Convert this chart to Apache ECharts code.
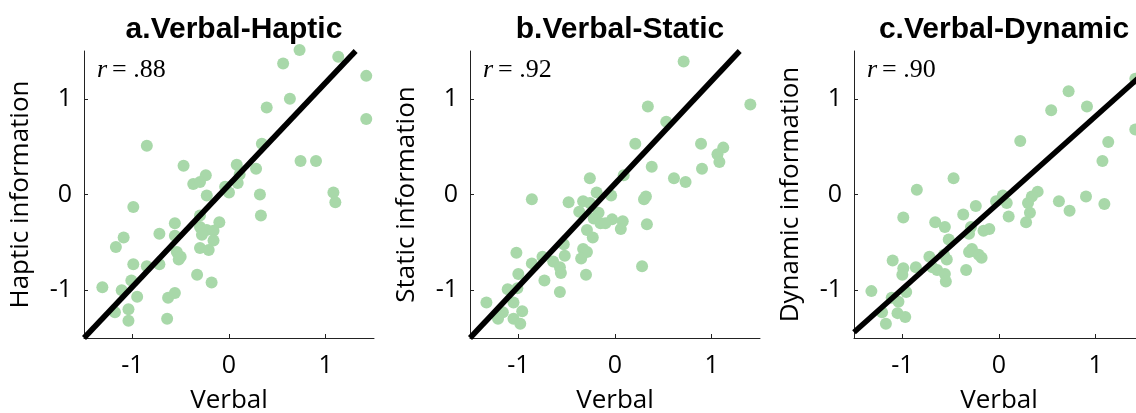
<!DOCTYPE html>
<html>
<head>
<meta charset="utf-8">
<script src="https://cdn.jsdelivr.net/npm/echarts@6/dist/echarts.min.js"></script>
<style>
  html, body { margin: 0; padding: 0; background: #fff; }
  #main { width: 1136px; height: 413px; }
</style>
</head>
<body>
<div id="main"></div>
<script>
/* 数据 */
var ticks = [-1, 0, 1];
var panelTitles = ['a.Verbal-Haptic', 'b.Verbal-Static', 'c.Verbal-Dynamic'];
var yNames = ['Haptic information', 'Static information', 'Dynamic information'];
var rValues = ['.88', '.92', '.90'];

var verbalA = [0.73, 1.13, 0.56, 1.42, 0.63, 0.39, 1.42, -0.85, 0.34, -0.47, 0.08, 0.74, 0.90, 0.28, -0.24,
    -0.37, -0.30, 0.11, 0.09, -0.04, -0.23, 0.00, 0.32, 1.08, 1.10, -0.99, 0.33, -0.30, -0.10, -0.56,
    -0.30, -0.23, -0.16, -0.72, -0.56, -0.28, -0.16, -1.09, -1.17, -0.30, -0.21, -0.54, -0.50, -0.52, -0.99,
    -0.85, -0.72, -0.33, -0.18, -1.01, -1.31, -1.11, -0.95, -0.63, -0.56, -1.18, -1.04, -1.04, -0.64];
var hapticInfo = [1.51, 1.44, 1.37, 1.24, 1.00, 0.91, 0.79, 0.51, 0.53, 0.30, 0.31, 0.35, 0.35, 0.27, 0.20,
    0.11, 0.13, 0.21, 0.12, 0.08, -0.01, 0.02, 0.00, 0.02, -0.08, -0.13, -0.22, -0.22, -0.29, -0.30,
    -0.34, -0.37, -0.38, -0.41, -0.43, -0.42, -0.48, -0.45, -0.55, -0.56, -0.58, -0.60, -0.65, -0.68, -0.73,
    -0.75, -0.73, -0.84, -0.92, -0.90, -0.97, -1.00, -1.07, -1.08, -1.03, -1.23, -1.20, -1.32, -1.30];

var verbalB = [0.71, 1.40, 0.34, 0.53, 0.21, 0.89, 1.12, 1.06, 1.08, 0.38, 0.90, -0.26, 0.09, 0.61, 0.73,
    -0.19, -0.04, 0.32, 0.30, -0.86, -0.48, -0.33, -0.26, -0.37, -0.17, -0.22, -0.15, -0.03, 0.08, 0.06,
    -0.10, 0.33, -0.29, -0.23, -0.53, -1.02, -0.33, -0.29, -0.52, -0.75, -0.64, -0.35, -0.86, -0.57, -0.56,
    0.28, -1.00, -0.30, -0.73, -0.57, -1.11, -1.01, -1.33, -1.05, -1.16, -0.96, -1.21, -1.05, -0.98];
var staticInfo = [1.39, 0.94, 0.92, 0.76, 0.53, 0.53, 0.49, 0.42, 0.34, 0.29, 0.27, 0.17, 0.20, 0.17, 0.13,
    0.02, -0.01, -0.02, -0.05, -0.05, -0.08, -0.07, -0.09, -0.18, -0.19, -0.25, -0.30, -0.26, -0.28, -0.36,
    -0.30, -0.31, -0.37, -0.45, -0.52, -0.61, -0.57, -0.60, -0.64, -0.65, -0.70, -0.67, -0.72, -0.76, -0.82,
    -0.75, -0.83, -0.84, -0.90, -1.02, -0.99, -0.98, -1.13, -1.13, -1.23, -1.22, -1.30, -1.30, -1.35];

var verbalC = [1.41, 0.72, 0.54, 0.91, 1.41, 0.22, 1.13, 1.07, -0.47, -0.85, 0.40, 0.34, 0.04, -0.03, 0.08,
    0.30, 0.62, 0.90, 1.09, 0.73, -0.24, 0.32, -0.37, 0.10, -0.99, 0.28, -0.66, -0.56, -0.10, -0.16,
    -0.29, -0.31, -0.52, -0.28, -0.31, -0.21, -0.18, -0.57, -0.72, -1.10, -0.54, -0.86, -0.69, -0.64, -0.34,
    -0.99, -1.00, -0.56, -0.55, -1.32, -0.96, -1.11, -1.04, -1.21, -1.05, -0.97, -1.17];
var dynamicInfo = [1.21, 1.08, 0.88, 0.92, 0.68, 0.56, 0.55, 0.35, 0.17, 0.05, 0.03, -0.02, -0.01, -0.07, -0.09,
    -0.09, -0.07, -0.02, -0.10, -0.17, -0.12, -0.19, -0.21, -0.23, -0.24, -0.29, -0.29, -0.34, -0.36, -0.38,
    -0.34, -0.41, -0.47, -0.57, -0.60, -0.63, -0.66, -0.63, -0.65, -0.69, -0.68, -0.76, -0.76, -0.79, -0.79,
    -0.77, -0.84, -0.83, -0.91, -1.01, -1.02, -1.08, -1.12, -1.23, -1.24, -1.28, -1.35];

/* 拟合线端点 */
var fitA = [[-1.5, -1.5], [1.31, 1.5]];
var fitB = [[-1.5, -1.5], [1.29, 1.5]];
var fitC = [[-1.5, -1.44], [1.5, 1.27]];

var xs = [verbalA, verbalB, verbalC];
var ys = [hapticInfo, staticInfo, dynamicInfo];
var fits = [fitA, fitB, fitC];

/* 布局 */
var gridLefts = [84, 470, 854];
var gridTop = 51, gridSize = 290, gridHeight = 287;

function zip(a, b) {
    return a.map(function (v, i) { return [v, b[i]]; });
}

var option = {
    backgroundColor: '#fff',
    animation: false,
    title: [],
    grid: [],
    xAxis: [],
    yAxis: [],
    series: []
};

gridLefts.forEach(function (left, i) {
    var centerX = left + gridSize / 2;
    option.title.push({
        text: panelTitles[i],
        left: centerX,
        top: 10,
        textAlign: 'center',
        textStyle: { fontFamily: 'Liberation Sans', fontWeight: 'bold', fontSize: 30, color: '#000' }
    });
    option.title.push({
        text: '{r|r} {t|= ' + rValues[i] + '}',
        left: left + 8,
        top: 52,
        textStyle: {
            fontWeight: 'normal',
            rich: {
                r: { fontFamily: 'Liberation Serif', fontStyle: 'italic', fontWeight: 'normal', fontSize: 26, color: '#000' },
                t: { fontFamily: 'Liberation Serif', fontWeight: 'normal', fontSize: 26, color: '#000' }
            }
        }
    });
    option.grid.push({
        left: left, top: gridTop, width: gridSize, height: gridHeight,
        containLabel: false, outerBoundsMode: 'none'
    });

    var axisCommon = {
        type: 'value',
        min: -1.5,
        max: 1.5,
        interval: 0.5,
        gridIndex: i,
        nameLocation: 'middle',
        nameTextStyle: { fontFamily: 'Open Sans', fontSize: 26, color: '#000' },
        axisLine: { show: true, onZero: false, lineStyle: { color: '#222', width: 1 } },
        axisTick: {
            show: true, inside: true, length: 4, lineStyle: { color: '#222' },
            customValues: ticks
        },
        axisLabel: {
            fontFamily: 'Open Sans', fontSize: 25, color: '#000',
            customValues: ticks,
            formatter: function (v) { return String(v); }
        },
        splitLine: { show: false }
    };
    option.xAxis.push(Object.assign({}, axisCommon, {
        name: 'Verbal', nameGap: 50,
        axisLabel: Object.assign({}, axisCommon.axisLabel, { margin: 15 })
    }));
    option.yAxis.push(Object.assign({}, axisCommon, {
        name: yNames[i], nameGap: 50,
        axisLabel: Object.assign({}, axisCommon.axisLabel, { margin: 12 })
    }));

    option.series.push({
        type: 'scatter',
        xAxisIndex: i, yAxisIndex: i,
        data: zip(xs[i], ys[i]),
        symbolSize: 12,
        clip: false,
        itemStyle: { color: '#a8d8a9', opacity: 1 },
        z: 2
    });
    option.series.push({
        type: 'line',
        xAxisIndex: i, yAxisIndex: i,
        data: fits[i],
        symbol: 'none',
        lineStyle: { color: '#000', width: 5.5, cap: 'butt' },
        z: 3
    });
});

var myChart = echarts.init(document.getElementById('main'), null, { renderer: 'canvas' });
myChart.setOption(option);
</script>
</body>
</html>
